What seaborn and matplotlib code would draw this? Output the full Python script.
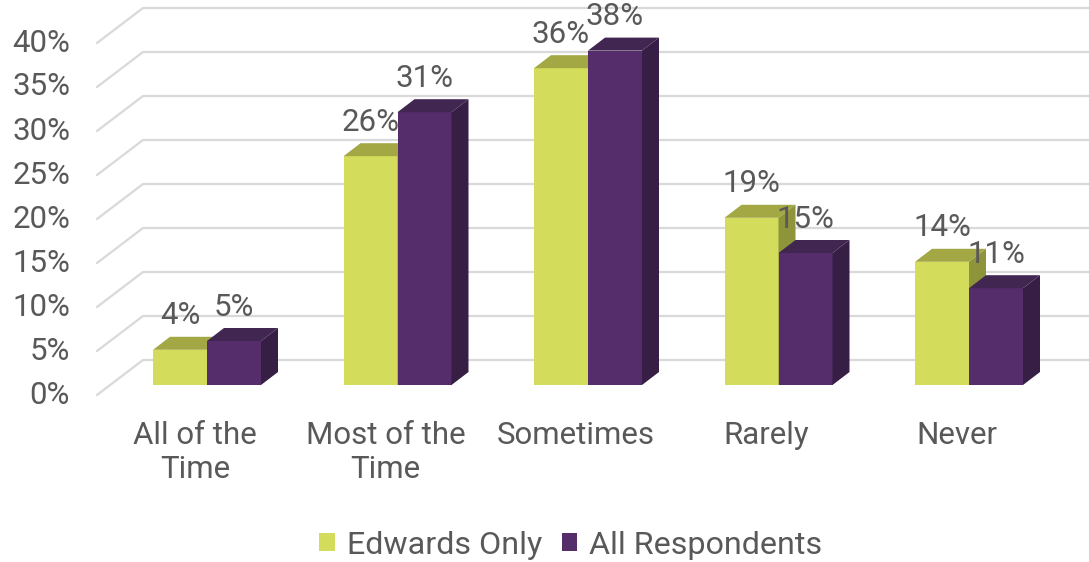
import matplotlib
matplotlib.use("Agg")
import matplotlib.pyplot as plt
from matplotlib.patches import Polygon, Patch
import seaborn as sns
import pandas as pd

# ---- data ----
categories = ["All of the\nTime", "Most of the\nTime", "Sometimes", "Rarely", "Never"]
series_names = ["Edwards Only", "All Respondents"]
edwards_only = [4, 26, 36, 19, 14]
all_respondents = [5, 31, 38, 15, 11]
y_ticks = [0, 5, 10, 15, 20, 25, 30, 35, 40]

# ---- style ----
front_colors = ["#D4DC5B", "#552D6B"]
top_colors = ["#A3A844", "#402650"]
side_colors = ["#8E9439", "#361E44"]
text_color = "#595959"
grid_color = "#D9D9D9"
FS = 22.5

sns.set_theme(style="white")
plt.rcParams["font.family"] = ["Roboto", "DejaVu Sans"]

W, H = 1089, 562
fig = plt.figure(figsize=(W / 100, H / 100), dpi=100)
ax = fig.add_axes([0, 0, 1, 1])

# pixel scale (layout): pixels per category step and per percent
PX, PY = 190.5, 8.8
X0, Y0 = 207, 385  # pixel of category 0 centre / bar baseline

df = pd.DataFrame({
    "category": categories * 2,
    "value": edwards_only + all_respondents,
    "series": [series_names[0]] * len(categories) + [series_names[1]] * len(categories),
})

sns.barplot(data=df, x="category", y="value", hue="series", order=categories,
            hue_order=series_names, palette=front_colors, width=108 / PX,
            saturation=1, linewidth=0, legend=False, ax=ax)

ax.set_xlim(-X0 / PX, (W - X0) / PX)
ax.set_ylim((Y0 - H) / PY, Y0 / PY)
ax.axis("off")

# depth of bars (pixels -> data)
ddx, ddy = 17 / PX, 13 / PY

# gridlines with perspective wall
fx, fy = (97 - X0) / PX, (Y0 - 395) / PY
bx, by = (143 - X0) / PX, (Y0 - 360) / PY
xr = (W - X0) / PX
for v in y_ticks:
    ax.plot([fx, bx, xr], [v + fy, v + by, v + by], color=grid_color, lw=1.6,
            zorder=0.5, solid_joinstyle="miter")
    ax.text((70 - X0) / PX, v + fy, f"{v}%", ha="right", va="center",
            fontsize=FS, color=text_color)

# 3D faces for bars
n = len(categories)
for k in range(len(series_names)):
    for p in ax.patches[k * n:(k + 1) * n]:
        x, w, h = p.get_x(), p.get_width(), p.get_height()
        p.set_zorder(2 + k)
        top = Polygon([(x, h), (x + w, h), (x + w + ddx, h + ddy), (x + ddx, h + ddy)],
                      closed=True, facecolor=top_colors[k], edgecolor="none", zorder=2.5 + k)
        side = Polygon([(x + w, 0), (x + w + ddx, ddy), (x + w + ddx, h + ddy), (x + w, h)],
                       closed=True, facecolor=side_colors[k], edgecolor="none", zorder=2.5 + k)
        ax.add_patch(top)
        ax.add_patch(side)
        ax.annotate(f"{h:.0f}%", (x + w / 2, h), xytext=(0, 34 * 0.72),
                    textcoords="offset points", ha="center", va="center",
                    fontsize=FS, color=text_color, zorder=5)

# category labels
for i, c in enumerate(categories):
    ax.text(i - 12 / PX, (Y0 - 421) / PY, c, ha="center", va="top",
            fontsize=FS, color=text_color, linespacing=1.2)

# legend
handles = [Patch(facecolor=c, edgecolor="none") for c in front_colors]
fig.legend(handles, series_names, loc="center", bbox_to_anchor=(571 / W, 1 - 545 / H),
           ncol=2, frameon=False, fontsize=23.2, handlelength=0.48, handleheight=0.48,
           handletextpad=0.38, columnspacing=0.6, labelcolor=text_color)

fig.savefig("out.png", dpi=100)
